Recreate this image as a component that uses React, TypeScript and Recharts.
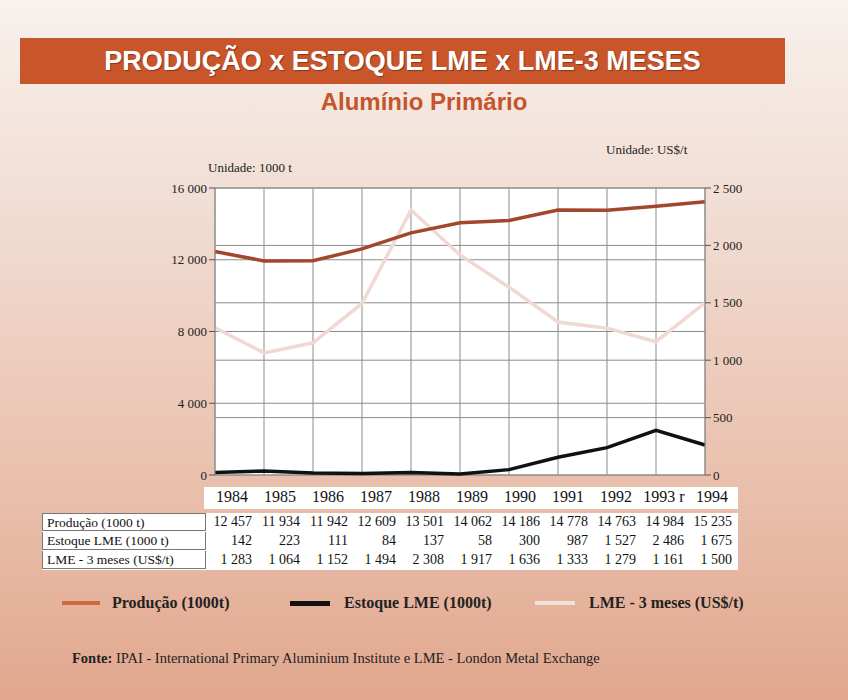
import React from "react";
import {
  LineChart,
  Line,
  XAxis,
  YAxis,
  CartesianGrid,
} from "recharts";

const years = ["1984", "1985", "1986", "1987", "1988", "1989", "1990", "1991", "1992", "1993 r", "1994"];
const producao = [12457, 11934, 11942, 12609, 13501, 14062, 14186, 14778, 14763, 14984, 15235];
const estoque = [142, 223, 111, 84, 137, 58, 300, 987, 1527, 2486, 1675];
const lme3 = [1283, 1064, 1152, 1494, 2308, 1917, 1636, 1333, 1279, 1161, 1500];

const leftTicks = [0, 4000, 8000, 12000, 16000];
const rightTicks = [0, 500, 1000, 1500, 2000, 2500];

const data = years.map((y, i) => ({
  year: y,
  producao: producao[i],
  estoque: estoque[i],
  lme: lme3[i],
}));

const fmt = (n: number) => String(n).replace(/\B(?=(\d{3})+(?!\d))/g, " ");

const serif = '"Liberation Serif", "Times New Roman", serif';
const sans = '"Liberation Sans", Arial, sans-serif';

const COLS_LEFT = 208;
const COL_W = 48;

const rows = [
  { label: "Produção (1000 t)", values: producao },
  { label: "Estoque LME (1000 t)", values: estoque },
  { label: "LME - 3 meses (US$/t)", values: lme3 },
];

export default function App() {
  return (
    <div
      style={{
        position: "absolute",
        left: 0,
        top: 0,
        width: 848,
        height: 700,
        overflow: "hidden",
        background: "linear-gradient(180deg, #f8f1ed 0%, #f1ddd3 30%, #e9bfac 70%, #e2a78e 100%)",
        fontFamily: serif,
      }}
    >
      {/* title banner */}
      <div
        style={{
          position: "absolute",
          left: 20,
          top: 38,
          width: 765,
          height: 46,
          background: "#c9562b",
          color: "#fff",
          fontFamily: sans,
          fontWeight: 700,
          fontSize: 27,
          lineHeight: "46px",
          textAlign: "center",
          textShadow: "1px 1px 1px rgba(0,0,0,0.35)",
        }}
      >
        PRODUÇÃO x ESTOQUE LME x LME-3 MESES
      </div>
      <div
        style={{
          position: "absolute",
          left: 0,
          width: 848,
          top: 88,
          textAlign: "center",
          fontFamily: '"Liberation Sans Narrow", "Liberation Sans", Arial, sans-serif',
          fontWeight: 700,
          fontSize: 24,
          color: "#c4552c",
        }}
      >
        Alumínio Primário
      </div>

      {/* unit labels */}
      <div style={{ position: "absolute", left: 208, top: 160, fontSize: 13, color: "#222" }}>
        Unidade: 1000 t
      </div>
      <div style={{ position: "absolute", left: 606, top: 142, fontSize: 13, color: "#222" }}>
        Unidade: US$/t
      </div>

      <div style={{ position: "absolute", left: 130, top: 150 }}>
        <LineChart
          width={660}
          height={340}
          data={data}
          margin={{ top: 38, right: 15, bottom: 15, left: 15 }}
        >
          <CartesianGrid
            yAxisId="left"
            stroke="#8c8c8c"
            strokeWidth={1}
            vertical={true}
            fill="#fff"
            fillOpacity={1}
          />
          <CartesianGrid yAxisId="right" stroke="#8c8c8c" strokeWidth={1} vertical={false} />
          <XAxis dataKey="year" hide />
          <YAxis
            yAxisId="left"
            width={70}
            domain={[0, 16000]}
            ticks={leftTicks}
            tickFormatter={fmt}
            axisLine={{ stroke: "#8c8c8c" }}
            tickLine={{ stroke: "#555" }}
            tickSize={6}
            tick={{ fontFamily: serif, fontSize: 13, fill: "#222" }}
          />
          <YAxis
            yAxisId="right"
            orientation="right"
            width={70}
            domain={[0, 2500]}
            ticks={rightTicks}
            tickFormatter={fmt}
            axisLine={{ stroke: "#8c8c8c" }}
            tickLine={{ stroke: "#555" }}
            tickSize={6}
            tick={{ fontFamily: serif, fontSize: 13, fill: "#222" }}
          />
          <Line
            yAxisId="right"
            dataKey="lme"
            stroke="#efd9d2"
            strokeWidth={3.5}
            dot={false}
            isAnimationActive={false}
          />
          <Line
            yAxisId="left"
            dataKey="producao"
            stroke="#a2462c"
            strokeWidth={3.5}
            dot={false}
            isAnimationActive={false}
          />
          <Line
            yAxisId="left"
            dataKey="estoque"
            stroke="#111"
            strokeWidth={3.5}
            dot={false}
            isAnimationActive={false}
          />
        </LineChart>
      </div>

      {/* table: years row */}
      <div
        style={{
          position: "absolute",
          left: COLS_LEFT - 4,
          top: 487,
          width: COL_W * years.length + 6,
          height: 22,
          background: "#fff",
        }}
      />
      {years.map((y, i) => (
        <div
          key={y}
          style={{
            position: "absolute",
            left: COLS_LEFT + i * COL_W,
            top: 488,
            width: COL_W,
            textAlign: "center",
            fontSize: 16,
            color: "#111",
            whiteSpace: "nowrap",
          }}
        >
          {y}
        </div>
      ))}

      {/* table: data rows */}
      <div
        style={{
          position: "absolute",
          left: 42,
          top: 513,
          width: COLS_LEFT - 42 + COL_W * years.length + 2,
          height: 57,
          background: "#fff",
        }}
      />
      {rows.map((r, ri) => (
        <React.Fragment key={r.label}>
          <div
            style={{
              position: "absolute",
              left: 42,
              top: 513 + ri * 19,
              width: COLS_LEFT - 44,
              height: 18,
              border: "1px solid #777",
              borderTop: ri === 0 ? "1px solid #777" : "none",
              fontSize: 13.5,
              lineHeight: "18px",
              paddingLeft: 4,
              boxSizing: "border-box",
              color: "#111",
              whiteSpace: "nowrap",
            }}
          >
            {r.label}
          </div>
          {r.values.map((v, i) => (
            <div
              key={i}
              style={{
                position: "absolute",
                left: COLS_LEFT + i * COL_W,
                top: 513 + ri * 19,
                width: COL_W - 4,
                textAlign: "right",
                fontSize: 14,
                lineHeight: "18px",
                color: "#111",
                whiteSpace: "nowrap",
              }}
            >
              {fmt(v)}
            </div>
          ))}
        </React.Fragment>
      ))}

      {/* legend */}
      <div style={{ position: "absolute", left: 62, top: 594, display: "flex", alignItems: "center" }}>
        <div style={{ width: 38, height: 4, background: "#cf6a3c", marginRight: 12 }} />
        <span style={{ fontWeight: 700, fontSize: 16, color: "#222" }}>Produção (1000t)</span>
      </div>
      <div style={{ position: "absolute", left: 290, top: 594, display: "flex", alignItems: "center" }}>
        <div style={{ width: 40, height: 5, background: "#111", marginRight: 14 }} />
        <span style={{ fontWeight: 700, fontSize: 16, color: "#222" }}>Estoque LME (1000t)</span>
      </div>
      <div style={{ position: "absolute", left: 535, top: 594, display: "flex", alignItems: "center" }}>
        <div style={{ width: 40, height: 4, background: "#f0e0da", marginRight: 14 }} />
        <span style={{ fontWeight: 700, fontSize: 16, color: "#222" }}>LME - 3 meses (US$/t)</span>
      </div>

      {/* source */}
      <div style={{ position: "absolute", left: 72, top: 650, fontSize: 14.5, color: "#222" }}>
        <b>Fonte:</b> IPAI - International Primary Aluminium Institute e LME - London Metal Exchange
      </div>
    </div>
  );
}
